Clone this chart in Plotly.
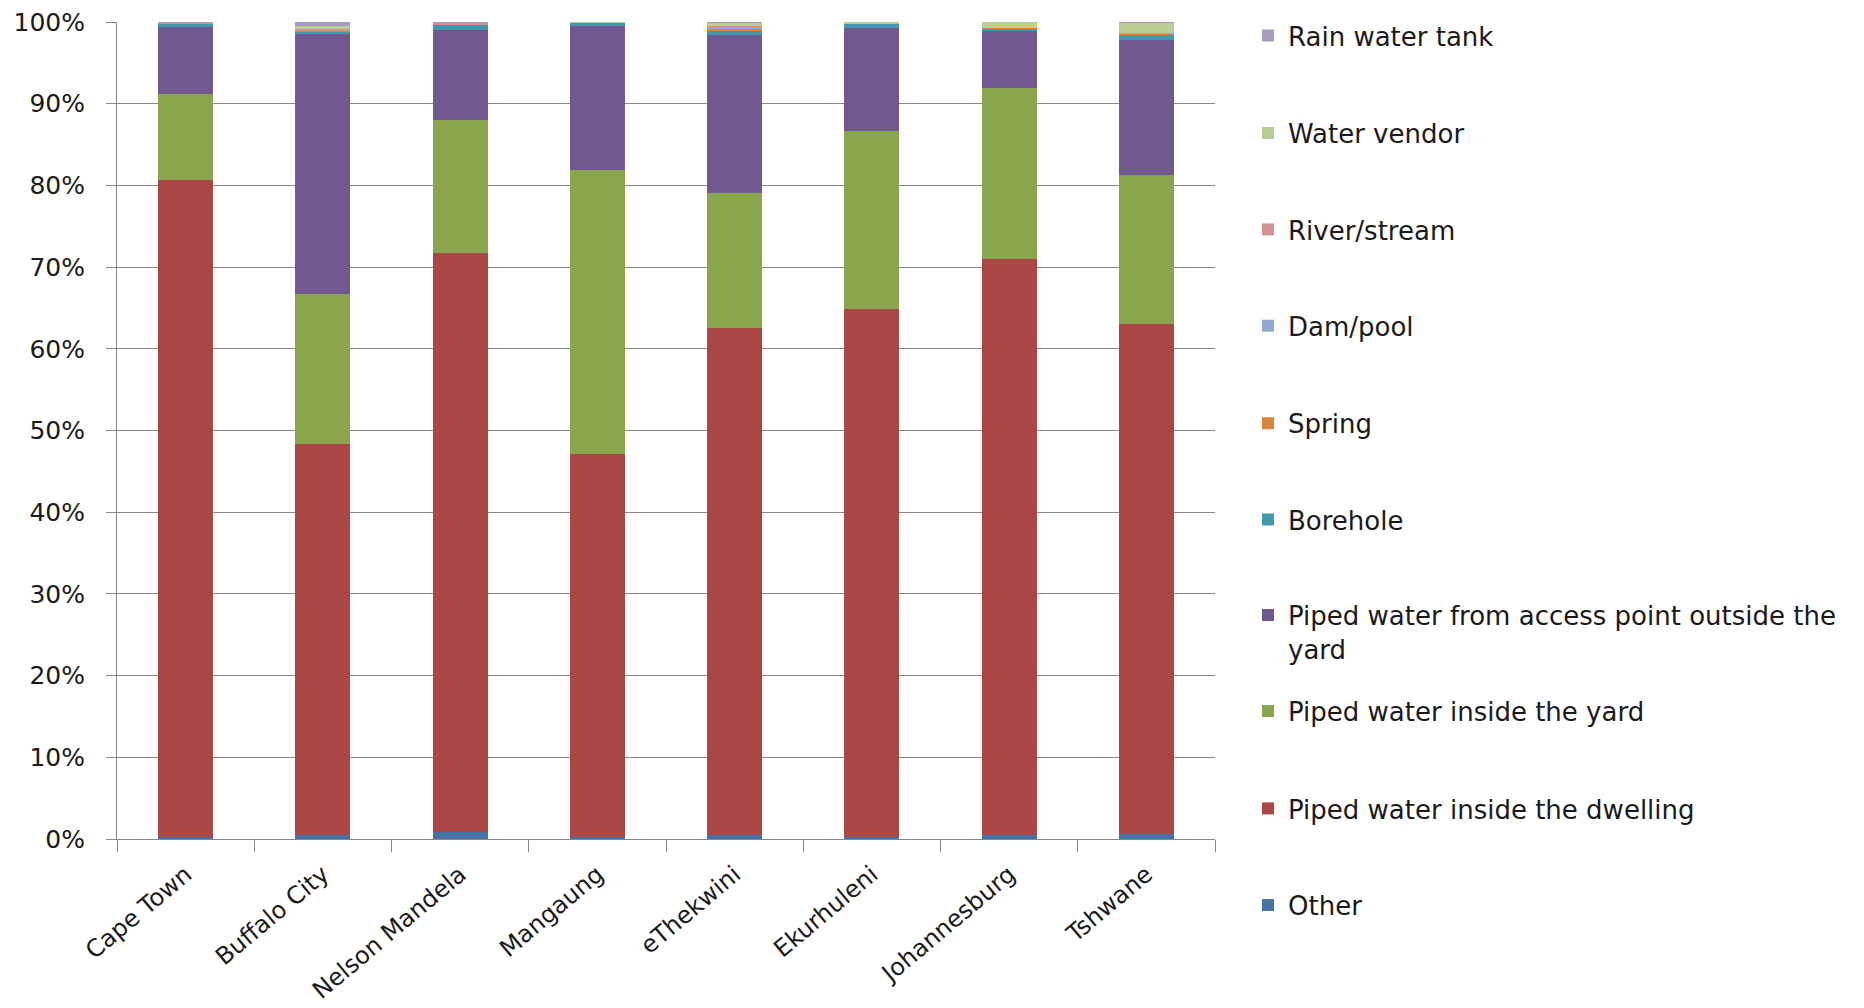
import plotly.graph_objects as go

cities = ["Cape Town", "Buffalo City", "Nelson Mandela", "Mangaung",
          "eThekwini", "Ekurhuleni", "Johannesburg", "Tshwane"]

other    = [0.2, 0.5, 0.8, 0.2, 0.5, 0.2, 0.5, 0.6]
dwelling = [80.5, 47.8, 70.9, 46.9, 62.1, 64.7, 70.5, 62.4]
yard     = [10.5, 18.4, 16.3, 34.8, 16.5, 21.8, 20.9, 18.3]
outside  = [8.2, 31.9, 11.0, 17.6, 19.35, 12.6, 7.1, 16.5]
borehole = [0.4, 0.2, 0.7, 0.4, 0.5, 0.5, 0.2, 0.7]
spring   = [0.0, 0.1, 0.0, 0.0, 0.25, 0.0, 0.05, 0.15]
dampool  = [0.0, 0.1, 0.0, 0.0, 0.05, 0.0, 0.0, 0.05]
river    = [0.1, 0.2, 0.2, 0.0, 0.25, 0.0, 0.0, 0.0]
vendor   = [0.05, 0.3, 0.05, 0.1, 0.45, 0.2, 0.8, 1.2]
rain     = [0.05, 0.5, 0.05, 0.0, 0.05, 0.0, 0.0, 0.1]

series_names = ["Other", "Piped water inside the dwelling", "Piped water inside the yard",
                "Piped water from access point outside the<br>yard", "Borehole", "Spring",
                "Dam/pool", "River/stream", "Water vendor", "Rain water tank"]
series_values = [other, dwelling, yard, outside, borehole, spring, dampool, river, vendor, rain]
colors = ["#4572A7", "#AA4643", "#89A54E", "#71588F", "#4198AF", "#DB843D",
          "#93A9CF", "#D19392", "#B9CD96", "#A99BBD"]

# legend text-line centres (px from top of the figure) for each series, bottom-of-stack first
legend_y_px = [897, 800.5, 703, 624, 511.6, 415.3, 317.8, 221.5, 125.2, 27.7]

W, H = 1864, 1008
FONT = "DejaVu Sans"

fig = go.Figure()
layout_legends = {}
for i, (name, vals, col) in enumerate(zip(series_names, series_values, colors)):
    lid = "legend" if i == 0 else f"legend{i+1}"
    fig.add_trace(go.Bar(
        x=cities, y=vals, name=name, marker=dict(color=col, line=dict(width=0)),
        legend=lid, showlegend=True,
    ))
    layout_legends[lid] = dict(
        xref="container", yref="container",
        x=1240 / W, y=1 - legend_y_px[i] / H,
        xanchor="left", yanchor="middle",
        valign="top",
        bgcolor="rgba(0,0,0,0)",
        font=dict(family=FONT, size=26, color="#1a1a1a"),
    )

fig.update_layout(
    width=W, height=H,
    barmode="stack",
    bargap=0.6,
    plot_bgcolor="white",
    paper_bgcolor="white",
    margin=dict(l=109, r=W - 1207, t=14, b=H - 831, autoexpand=False),
    font=dict(family=FONT, size=24, color="#1a1a1a"),
    **layout_legends,
)

fig.update_yaxes(
    range=[0, 100], dtick=10, ticksuffix="%",
    showgrid=True, gridcolor="#878787", gridwidth=1,
    showline=True, linecolor="#878787", linewidth=1,
    ticks="outside", ticklen=10, tickcolor="#878787",
    ticklabelstandoff=16,
    ticklabeloverflow="allow",
    tickfont=dict(family=FONT, size=25, color="#1a1a1a"),
    zeroline=False,
)
fig.update_xaxes(
    type="category",
    showline=True, linecolor="#878787", linewidth=1,
    ticks="outside", ticklen=12, tickcolor="#878787",
    tickson="boundaries",
    tickangle=-40,
    ticklabelstandoff=11,
    ticklabeloverflow="allow",
    tickfont=dict(family=FONT, size=24, color="#1a1a1a"),
)

fig.write_html("out.html")
